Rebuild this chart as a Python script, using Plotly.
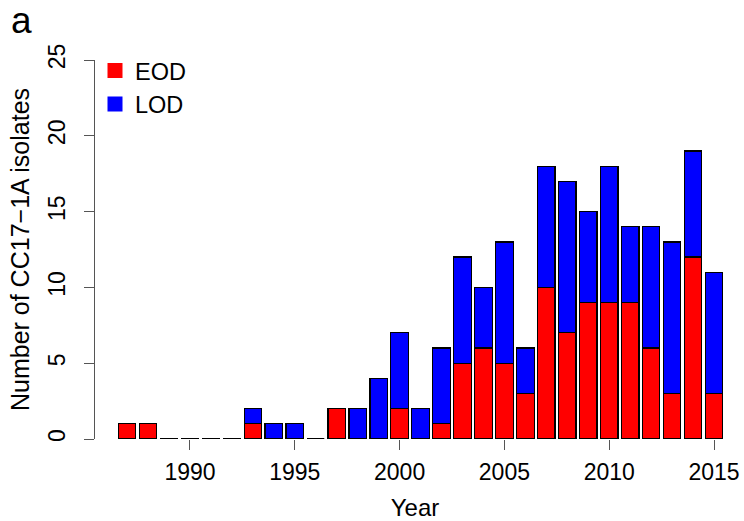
import plotly.graph_objects as go

years = list(range(1987, 2016))
eod = [1, 1, 0, 0, 0, 0, 1, 0, 0, 0, 2, 0, 0, 2, 0, 1, 5, 6, 5, 3, 10, 7, 9, 9, 9, 6, 3, 12, 3]
lod = [0, 0, 0, 0, 0, 0, 1, 1, 1, 0, 0, 2, 4, 5, 2, 5, 7, 4, 8, 3, 8, 10, 6, 9, 5, 8, 10, 7, 8]
x_ticks = [1990, 1995, 2000, 2005, 2010, 2015]
y_ticks = [0, 5, 10, 15, 20, 25]

FONT = "Liberation Sans, Arial, Helvetica, sans-serif"
BW = 0.833
AXC = "#555555"

fig = go.Figure()
fig.add_trace(go.Bar(x=years, y=eod, name="EOD", width=BW, marker=dict(color="#ff0000", line=dict(color="black", width=1.2)),
                     showlegend=False, cliponaxis=False))
fig.add_trace(go.Bar(x=years, y=lod, name="LOD", width=BW, marker=dict(color="#0000ff", line=dict(color="black", width=1.2)),
                     showlegend=False, cliponaxis=False))

# zero-height bars drawn as flat outlines (as R's barplot does)
zx, zy = [], []
for yr, e, l in zip(years, eod, lod):
    if e + l == 0:
        zx += [yr - BW / 2, yr + BW / 2, None]
        zy += [0, 0, None]
fig.add_trace(go.Scatter(x=zx, y=zy, mode="lines", line=dict(color="black", width=1.2),
                         showlegend=False, hoverinfo="skip", cliponaxis=False))

# legend entries
fig.add_trace(go.Scatter(x=[None], y=[None], mode="markers", name="EOD",
                         marker=dict(symbol="square", size=15, color="#ff0000")))
fig.add_trace(go.Scatter(x=[None], y=[None], mode="markers", name="LOD",
                         marker=dict(symbol="square", size=15, color="#0000ff")))

fig.update_layout(
    width=744, height=521,
    margin=dict(l=95, r=9, t=60, b=82),
    barmode="stack",
    plot_bgcolor="white", paper_bgcolor="white",
    font=dict(family=FONT, size=23, color="black"),
    legend=dict(x=0.0, y=1.03, xanchor="left", yanchor="top", bgcolor="rgba(0,0,0,0)",
                font=dict(size=23.5), tracegroupgap=0, itemsizing="trace", traceorder="normal"),
    xaxis=dict(range=[1985.47, 2016.0], tickvals=x_ticks, ticks="outside", ticklen=10, tickcolor=AXC,
               tickwidth=1, showline=False, showgrid=False, zeroline=False, automargin=False,
               tickfont=dict(size=23), ticklabelstandoff=2,
               title=dict(text="Year", font=dict(size=24), standoff=17)),
    yaxis=dict(range=[0, 25], tickvals=y_ticks, ticks="outside", ticklen=10, tickcolor=AXC,
               tickwidth=1, showline=True, linecolor=AXC, linewidth=1, showgrid=False, zeroline=False,
               automargin=False,
               tickangle=-90, tickfont=dict(size=23), ticklabelstandoff=10,
               title=dict(text="Number of CC17\u22121A isolates", font=dict(size=25), standoff=7)),
    annotations=[dict(text="a", xref="paper", yref="paper", x=-95/640, y=1.0 + 60/380, xanchor="left",
                      yanchor="top", showarrow=False, xshift=9, yshift=2, font=dict(size=37))],
)

fig.write_html("out.html", config={"displayModeBar": False},
               post_script="document.body.style.margin='0px';document.body.style.overflow='hidden';")
